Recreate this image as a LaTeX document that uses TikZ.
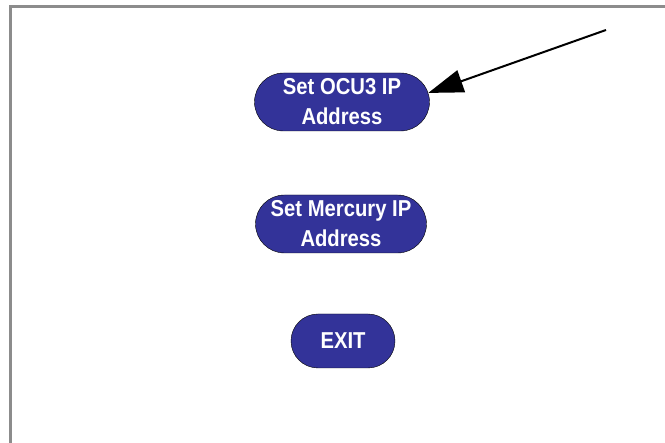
\documentclass[tikz,border=0pt]{standalone}
\usepackage{fontspec}
\setmainfont{Liberation Sans}
\newfontfamily\btnfont[FakeStretch=0.88]{Liberation Sans}
\usetikzlibrary{arrows.meta,shapes.misc}
\definecolor{btnblue}{RGB}{51,51,153}
\begin{document}
	\begin{tikzpicture}[x=1pt,y=1pt]
		\useasboundingbox (0,0) rectangle (665,443);
		\draw[gray!90, line width=3pt] (10,0) -- (10,436) -- (665,436);
		\begin{scope}[every node/.style={rounded rectangle, draw=black, fill=btnblue, text=white, inner sep=0pt, align=center, font=\btnfont\fontsize{23}{30}\selectfont\bfseries}]
			\node (ocu)[minimum width=175, minimum height=58] at (342,341) {Set OCU3 IP\\Address};
			\node (mercury)[minimum width=171, minimum height=58] at (341,219) {Set Mercury IP\\Address};
			\node (exit)[minimum width=104, minimum height=54] at (343,102) {EXIT};
		\end{scope}
		\coordinate (pointer) at (606,413);
		\draw[line width=2pt, -{Triangle[length=35pt,width=23pt]}] (pointer) -- (ocu.6);
	\end{tikzpicture}
\end{document}
